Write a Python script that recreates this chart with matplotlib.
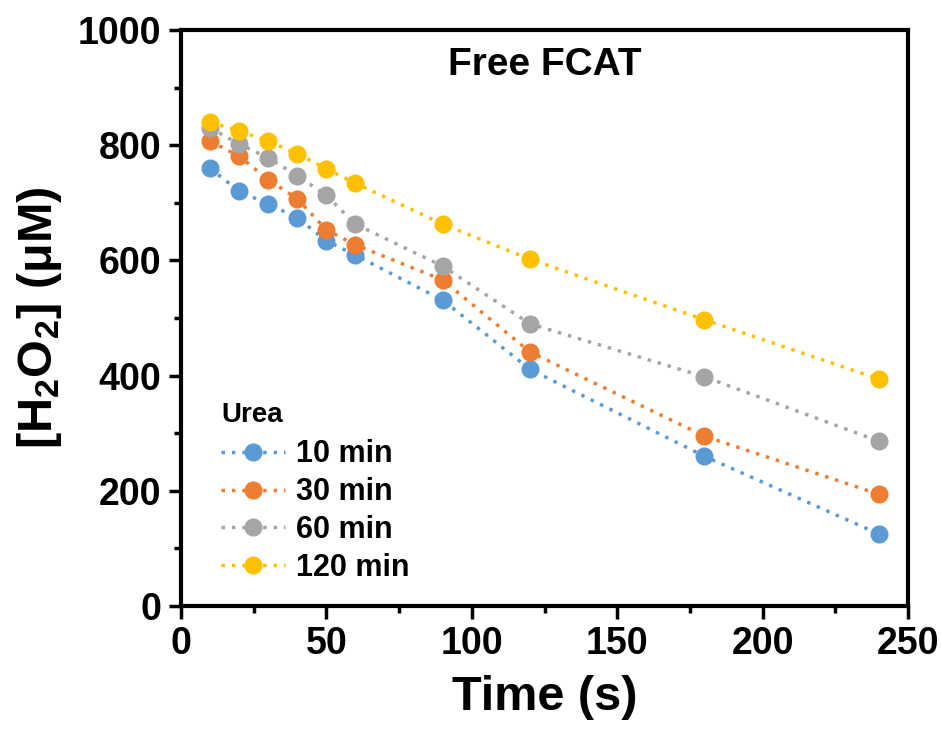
import matplotlib
matplotlib.use("Agg")
import matplotlib.pyplot as plt
from matplotlib.ticker import MultipleLocator

time_s = [10, 20, 30, 40, 50, 60, 90, 120, 180, 240]
urea_10 = [760, 720, 698, 674, 634, 609, 531, 411, 260, 125]
urea_30 = [807, 781, 740, 707, 653, 627, 566, 441, 295, 194]
urea_60 = [830, 802, 778, 747, 713, 663, 590, 490, 398, 286]
urea_120 = [840, 825, 807, 785, 759, 734, 663, 602, 497, 394]
labels = ["10 min", "30 min", "60 min", "120 min"]
colors = ["#5B9BD5", "#ED7D31", "#A5A5A5", "#FFC000"]

plt.rcParams['font.family'] = ['Liberation Sans', 'DejaVu Sans']
plt.rcParams['font.weight'] = 'bold'
plt.rcParams['mathtext.fontset'] = 'custom'
plt.rcParams['mathtext.rm'] = 'Liberation Sans:bold'
plt.rcParams['mathtext.bf'] = 'Liberation Sans:bold'
plt.rcParams['mathtext.it'] = 'Liberation Sans:bold'
plt.rcParams['mathtext.default'] = 'bf'

fig = plt.figure(figsize=(9.41, 7.40), dpi=100)
ax = fig.add_axes([0.1923, 0.181, 0.7727, 0.7785])

for ys, lab, c in zip([urea_10, urea_30, urea_60, urea_120], labels, colors):
    ax.plot(time_s, ys, linestyle=(0, (1, 2)), linewidth=2.5, color=c,
            marker='o', markersize=12, label=lab)

ax.set_xlim(0, 250)
ax.set_ylim(0, 1000)
ax.xaxis.set_major_locator(MultipleLocator(50))
ax.xaxis.set_minor_locator(MultipleLocator(25))
ax.yaxis.set_major_locator(MultipleLocator(200))
ax.yaxis.set_minor_locator(MultipleLocator(100))
ax.tick_params(which='major', direction='out', length=9, width=2.5, labelsize=27, pad=5)
ax.tick_params(which='minor', direction='out', length=5, width=2.5)
for lab in ax.get_xticklabels() + ax.get_yticklabels():
    lab.set_fontweight('bold')
for sp in ax.spines.values():
    sp.set_linewidth(3)

ax.set_xlabel("Time (s)", fontsize=35, fontweight='bold', labelpad=10)
ax.set_ylabel(r"[H$_2$O$_2$] (μM)", fontsize=35, fontweight='bold', labelpad=10)
ax.text(0.5, 0.94, "Free FCAT", transform=ax.transAxes, ha='center', va='center',
        fontsize=28, fontweight='bold')

leg = ax.legend(loc='lower left', bbox_to_anchor=(0.03, 0.008), frameon=False,
                title="Urea", fontsize=22, title_fontproperties={'weight': 'bold', 'size': 20},
                handlelength=2.1, handletextpad=0.35, labelspacing=0.26, alignment='left',
                borderaxespad=0.2)
leg._legend_box.sep = 8
for t in leg.get_texts():
    t.set_fontweight('bold')

fig.savefig("out.png", dpi=100)
